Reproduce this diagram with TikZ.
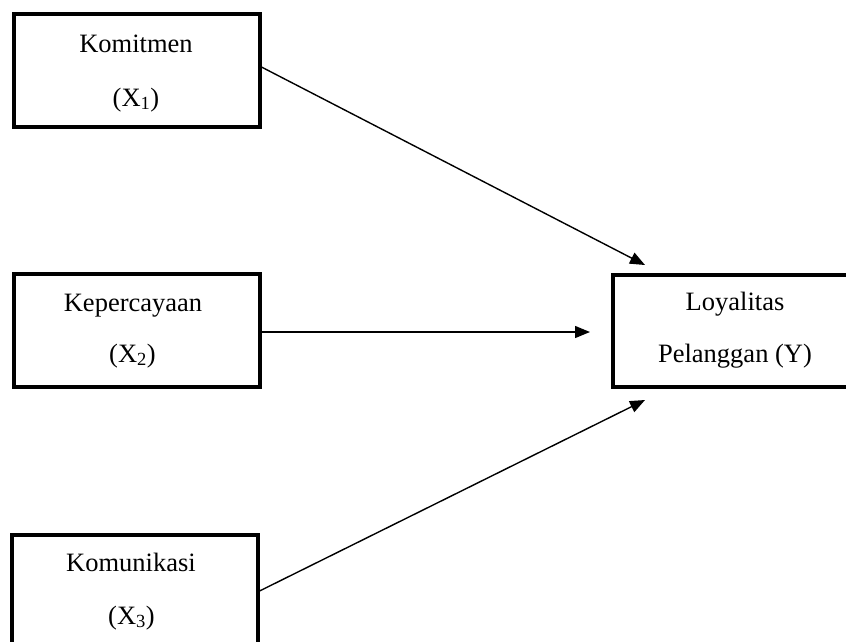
\documentclass[tikz,border=0pt]{standalone}
\usepackage{fontspec}
\setmainfont{Liberation Serif}
\usetikzlibrary{arrows.meta}
\begin{document}
\begin{tikzpicture}[x=1pt,y=-1pt,
  box/.style={draw=black,line width=4pt,fill=white,inner sep=0pt,outer sep=0pt},
  lbl/.style={anchor=base,inner sep=0pt,font=\fontsize{26.5}{30}\selectfont},
  conn/.style={draw=black,line width=1.4pt,-{Triangle[length=15pt,width=12pt]}}]
\clip (0,0) rectangle (846,641);
\fill[white] (0,0) rectangle (846,641);
% boxes
\node[box,minimum width=246pt,minimum height=112.5pt] (b1) at (137,70.25) {};
\node[box,minimum width=246pt,minimum height=112.5pt] (b2) at (137,330.25) {};
\node[box,minimum width=245.5pt,minimum height=145pt] (b3) at (134.75,607.5) {};
\node[box,minimum width=257pt,minimum height=112pt] (y) at (741.5,331) {};
% texts
\node[lbl] (t1a) at (136,52) {Komitmen};
\node[lbl] (t1b) at (136,106) {(X\textsubscript{1})};
\node[lbl] (t2a) at (133,311) {Kepercayaan};
\node[lbl] (t2b) at (132.5,362) {(X\textsubscript{2})};
\node[lbl] (t3a) at (131,571) {Komunikasi};
\node[lbl] (t3b) at (131.5,624) {(X\textsubscript{3})};
\node[lbl] (ya) at (735,310) {Loyalitas};
\node[lbl] (yb) at (735,362) {Pelanggan (Y)};
% arrow ends (free ends near the target box)
\coordinate (e1) at ([xshift=32pt,yshift=10pt]y.north west);
\coordinate (e2) at ([xshift=-23pt,yshift=-1pt]y.west);
\coordinate (e3) at ([xshift=32pt,yshift=-13pt]y.south west);
\draw[conn] ([yshift=4pt]b1.east) -- (e1);
\draw[conn] ([yshift=-1.75pt]b2.east) -- (e2);
\draw[conn] ([yshift=15.5pt]b3.east) -- (e3);
\end{tikzpicture}
\end{document}
